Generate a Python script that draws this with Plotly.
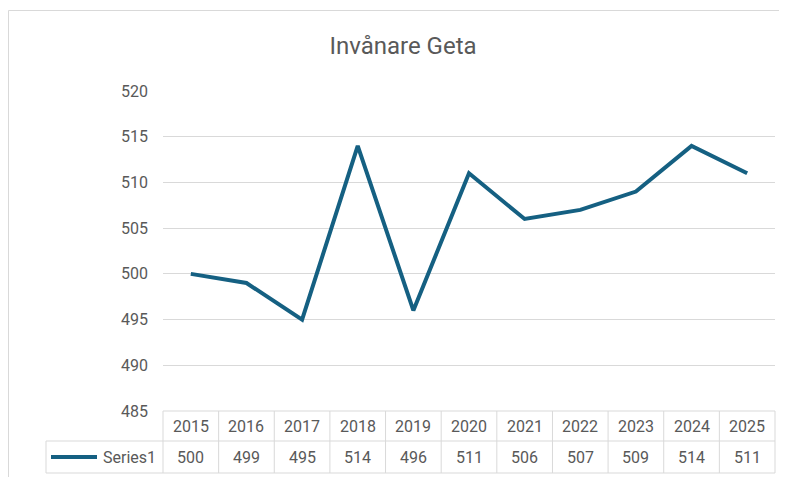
import plotly.graph_objects as go

years = [2015, 2016, 2017, 2018, 2019, 2020, 2021, 2022, 2023, 2024, 2025]
values = [500, 499, 495, 514, 496, 511, 506, 507, 509, 514, 511]
series_name = "Series1"
title_text = "Invånare Geta"

# page body has an 8px margin; work in screenshot pixels and shift
OFF = 8
W, H = 787 - OFF, 477 - OFF
PL, PR, PT, PB = 163, 775, 91, 411  # plot area in screenshot px
L = PL - OFF
T = PT - OFF
R = W - (PR - OFF)
B = H - (PB - OFF)
pw = PR - PL
ph = PB - PT
LINE = "#156082"
GRID = "#d9d9d9"
TXT = "#595959"
FONT = "Roboto"


def py(px):
    return (PB - px) / ph


def pxp(px):
    return (px - PL) / pw


fig = go.Figure()
fig.add_trace(go.Scatter(x=years, y=values, mode="lines", name=series_name,
                         line=dict(color=LINE, width=4), showlegend=False))

shapes = []
n = len(years)
# outer chart border
shapes.append(dict(type="rect", xref="paper", yref="paper", x0=pxp(8.5), x1=2, y0=-2, y1=py(10.5),
                   line=dict(color=GRID, width=1), layer="below"))
# table horizontal lines
shapes.append(dict(type="line", xref="paper", yref="paper", x0=0, x1=1, y0=0, y1=0, line=dict(color=GRID, width=1)))
for ypx in (441, 473):
    shapes.append(dict(type="line", xref="paper", yref="paper", x0=pxp(46), x1=1, y0=py(ypx), y1=py(ypx),
                       line=dict(color=GRID, width=1)))
# table vertical lines
for k in range(n + 1):
    shapes.append(dict(type="line", xref="paper", yref="paper", x0=k / n, x1=k / n, y0=0, y1=py(473),
                       line=dict(color=GRID, width=1)))
shapes.append(dict(type="line", xref="paper", yref="paper", x0=pxp(46), x1=pxp(46), y0=py(441), y1=py(473),
                   line=dict(color=GRID, width=1)))
# legend key
shapes.append(dict(type="line", xref="paper", yref="paper", x0=pxp(51), x1=pxp(97), y0=py(457), y1=py(457),
                   line=dict(color=LINE, width=4)))

annotations = []
for yr, v in zip(years, values):
    annotations.append(dict(x=yr, xref="x", y=py(426), yref="paper", text=str(yr), showarrow=False,
                            font=dict(family=FONT, size=16, color=TXT), xanchor="center", yanchor="middle"))
    annotations.append(dict(x=yr, xref="x", y=py(457), yref="paper", text=str(v), showarrow=False,
                            font=dict(family=FONT, size=16, color=TXT), xanchor="center", yanchor="middle"))
annotations.append(dict(x=pxp(158), xref="paper", y=py(457), yref="paper", text=series_name, showarrow=False,
                        font=dict(family=FONT, size=16, color=TXT), xanchor="right", yanchor="middle"))

fig.update_layout(
    width=W, height=H,
    margin=dict(l=L, r=R, t=T, b=B, pad=0),
    paper_bgcolor="white", plot_bgcolor="white",
    title=dict(text=title_text, x=(403 - OFF) / W, xanchor="center", y=1 - (46 - OFF) / H, yanchor="middle",
               font=dict(family=FONT, size=24, color=TXT)),
    xaxis=dict(range=[years[0] - 0.5, years[-1] + 0.5], showticklabels=False, showgrid=False,
               zeroline=False, showline=False),
    yaxis=dict(range=[485, 520], dtick=5, tick0=485, gridcolor=GRID, gridwidth=1, zeroline=False,
               showline=False, ticklabelstandoff=14, tickfont=dict(family=FONT, size=16, color=TXT)),
    shapes=shapes,
    annotations=annotations,
    showlegend=False,
)

fig.write_html("out.html")
